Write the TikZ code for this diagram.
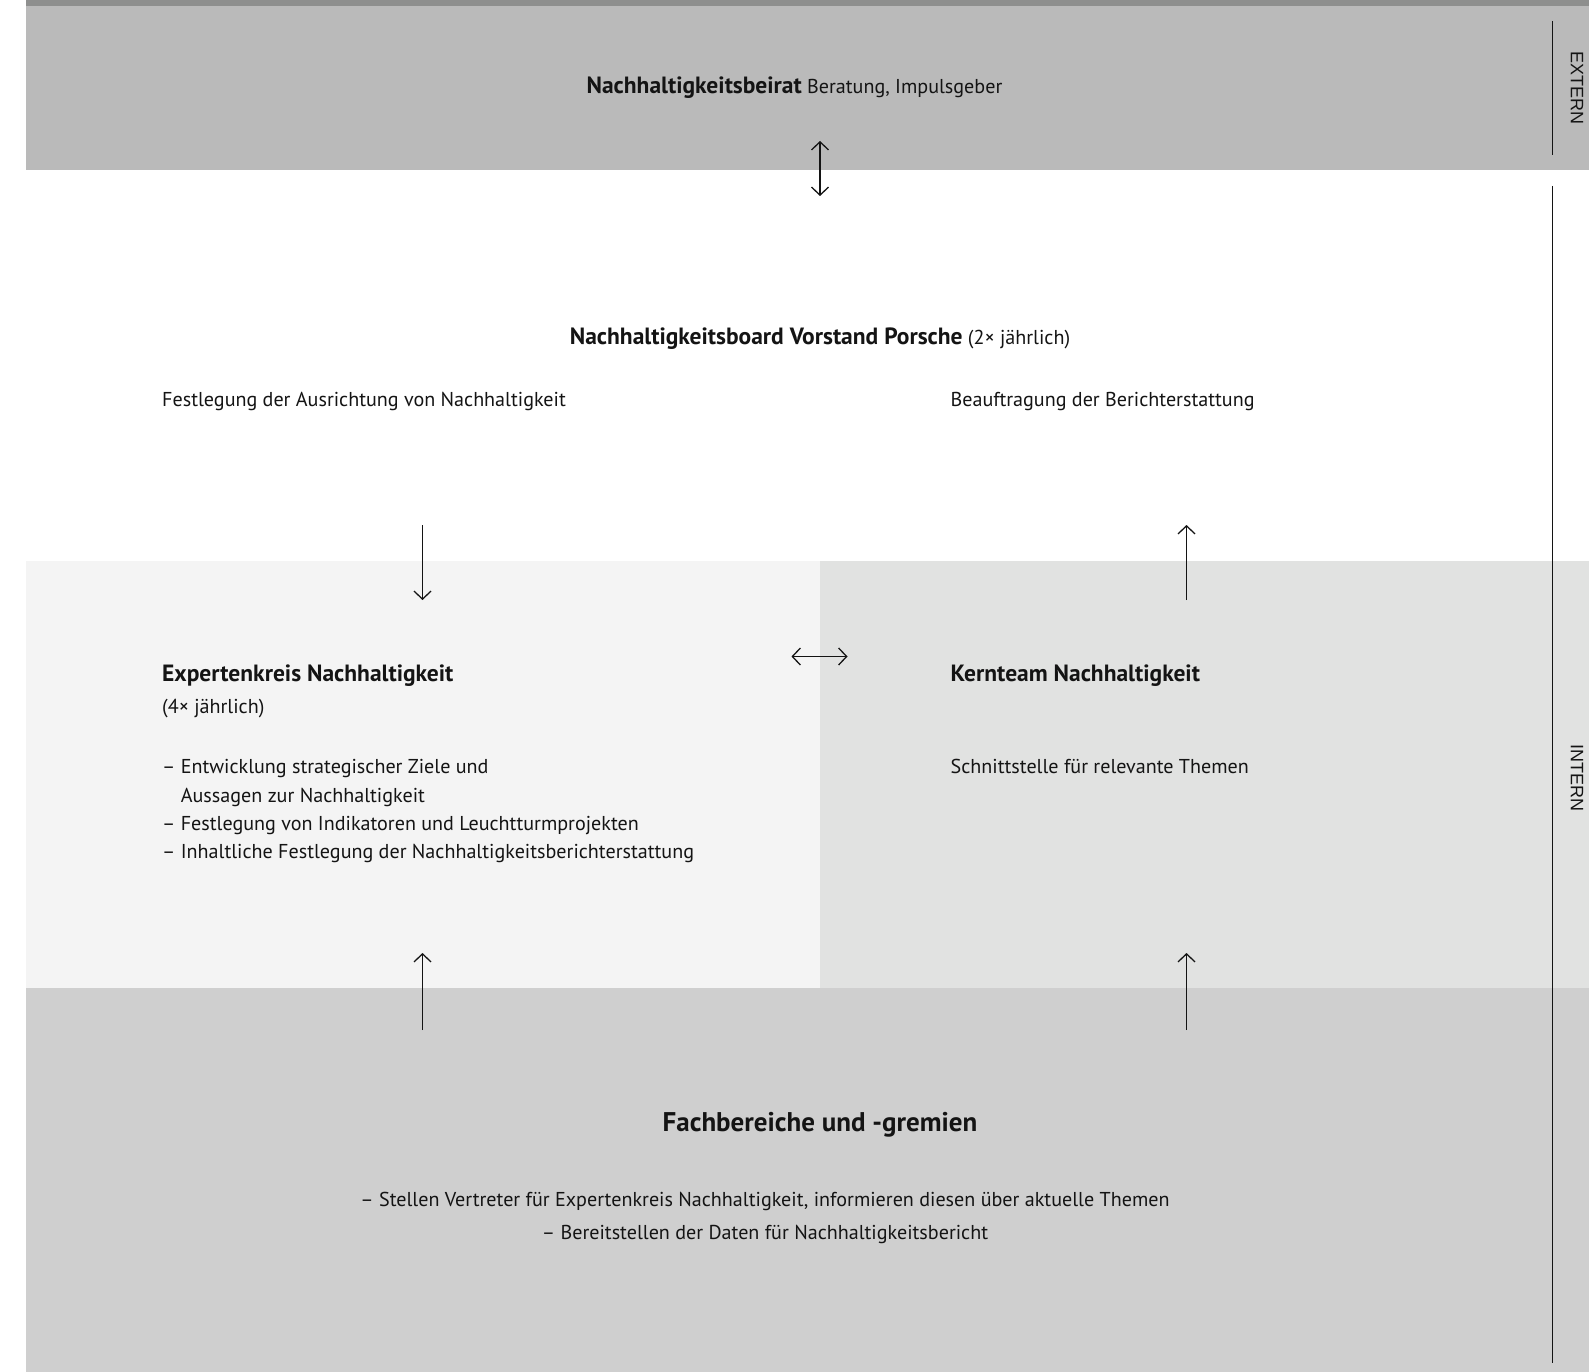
\documentclass[tikz,border=0pt]{standalone}
\usepackage{fontspec}
\setmainfont{PT Sans}
\newfontfamily\labfont{Liberation Sans}
\usetikzlibrary{arrows.meta}
\definecolor{topbar}{HTML}{8E8F8E}
\definecolor{topband}{HTML}{BABABA}
\definecolor{leftpanel}{HTML}{F4F4F4}
\definecolor{rightpanel}{HTML}{E1E2E1}
\definecolor{bottomband}{HTML}{CFCFCF}
\definecolor{ink}{HTML}{141414}
\newcommand{\hd}[1]{{\fontsize{23.5}{28.5}\selectfont\bfseries #1}}
\tikzset{
  txt/.style={inner sep=0pt, anchor=base west, text=ink, font=\fontsize{20.1}{28.5}\selectfont},
  ctxt/.style={inner sep=0pt, anchor=base, text=ink, font=\fontsize{20.1}{28.5}\selectfont},
  side/.style={inner sep=0pt, rotate=-90, text=ink, font=\labfont\fontsize{18}{18}\selectfont},
  arr/.style={line width=1.3pt, draw=ink, -{Straight Barb[length=8pt,width=17pt]}},
  darr/.style={line width=1.3pt, draw=ink, {Straight Barb[length=8pt,width=17pt]}-{Straight Barb[length=8pt,width=17pt]}},
  sideline/.style={line width=1.5pt, draw=ink},
}
\begin{document}
\begin{tikzpicture}[x=1pt,y=-1pt]
\useasboundingbox (0,0) rectangle (1589,1372);
\fill[white] (0,0) rectangle (1589,1372);
% bands
\fill[topband] (25.5,0) rectangle (1589,170);
\fill[topbar] (25.5,0) rectangle (1589,6);
\fill[leftpanel] (25.5,561) rectangle (820,988);
\fill[rightpanel] (820,561) rectangle (1589,988);
\fill[bottomband] (25.5,988) rectangle (1589,1372);
% side lines
\coordinate (e1) at (1552.7,21);
\coordinate (e2) at (1552.7,155);
\coordinate (i1) at (1552.7,186);
\coordinate (i2) at (1552.7,1363);
\draw[sideline] (e1) -- (e2);
\draw[sideline] (i1) -- (i2);
\node[side] (extern) at (1577,88) {EXTERN};
\node[side] (intern) at (1577,778) {INTERN};
% texts
\node[ctxt] (beirat) at (794.5,94) {\hd{Nachhaltigkeitsbeirat} Beratung, Impulsgeber};
\node[ctxt] (board) at (820,344.5) {\hd{Nachhaltigkeitsboard Vorstand Porsche} (2× jährlich)};
\node[txt] (festl) at (162,406.5) {Festlegung der Ausrichtung von Nachhaltigkeit};
\node[txt] (beauf) at (950.5,406.5) {Beauftragung der Berichterstattung};
\node[txt] (expk) at (162,681) {\hd{Expertenkreis Nachhaltigkeit}};
\node[txt] (expf) at (162,713.5) {(4× jährlich)};
\node[txt] (b1) at (162,773.5) {– Entwicklung strategischer Ziele und};
\node[txt] (b1b) at (180.7,802) {Aussagen zur Nachhaltigkeit};
\node[txt] (b2) at (162,830.5) {– Festlegung von Indikatoren und Leuchtturmprojekten};
\node[txt] (b3) at (162,858.5) {– Inhaltliche Festlegung der Nachhaltigkeitsberichterstattung};
\node[txt] (kern) at (950.5,681) {\hd{Kernteam Nachhaltigkeit}};
\node[txt] (schn) at (950.5,773.5) {Schnittstelle für relevante Themen};
\node[ctxt, font=\fontsize{27}{32}\selectfont\bfseries] (fach) at (820,1131) {Fachbereiche und -gremien};
\node[ctxt] (fach1) at (765,1206.5) {– Stellen Vertreter für Expertenkreis Nachhaltigkeit, informieren diesen über aktuelle Themen};
\node[ctxt] (fach2) at (765,1239.5) {– Bereitstellen der Daten für Nachhaltigkeitsbericht};
% arrows
\coordinate (t1) at (820,141);
\coordinate (t2) at (820,196);
\draw[darr] (t1) -- (t2);
\coordinate (l1) at (422.5,525);
\coordinate (l2) at (422.5,600);
\draw[arr] (l1) -- (l2);
\coordinate (r1) at (1186.5,600);
\coordinate (r2) at (1186.5,525);
\draw[arr] (r1) -- (r2);
\coordinate (h1) at (791.5,656.5);
\coordinate (h2) at (847.5,656.5);
\draw[darr] (h1) -- (h2);
\coordinate (bl1) at (422.5,1030);
\coordinate (bl2) at (422.5,953);
\draw[arr] (bl1) -- (bl2);
\coordinate (br1) at (1186.5,1030);
\coordinate (br2) at (1186.5,953);
\draw[arr] (br1) -- (br2);
\end{tikzpicture}
\end{document}
